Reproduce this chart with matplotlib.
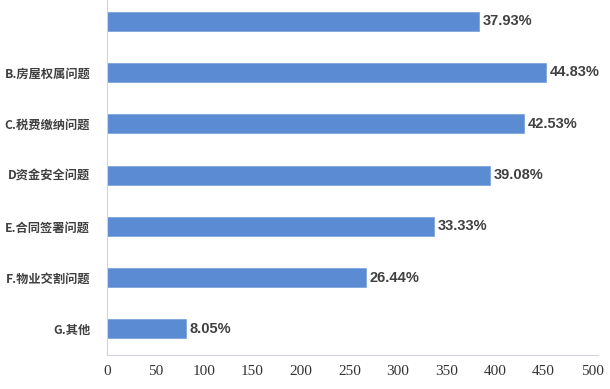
import numpy as np
from matplotlib import pyplot as plt

plt.rcParams['font.family'] = ['Noto Sans CJK SC', 'DejaVu Sans']

BAR_BLUE = "#5b8bd2"
TEXT_GRAY = "#404040"

categories = ["", "B.房屋权属问题", "C.税费缴纳问题", "D资金安全问题",
              "E.合同签署问题", "F.物业交割问题", "G.其他"]
values = [383, 452, 430, 395, 337, 267, 81]
pct_labels = ["37.93%", "44.83%", "42.53%", "39.08%", "33.33%", "26.44%", "8.05%"]
xticks = [0, 50, 100, 150, 200, 250, 300, 350, 400, 450, 500]


def draw_chart():
    fig = plt.figure(figsize=(6.1, 3.89), dpi=100)
    ax = fig.add_axes([107 / 610, 34 / 389, 491 / 610, 355 / 389])

    ypos = np.arange(len(categories))[::-1]
    ax.barh(ypos, values, height=0.37, color=BAR_BLUE,
            edgecolor="#7fa6dd", linewidth=0.6)

    for y, v, t in zip(ypos, values, pct_labels):
        ax.text(v + 4, y, t, va="center", ha="left", fontsize=10.5,
                color=TEXT_GRAY, fontweight="bold",
                family=["Liberation Sans Narrow", "Liberation Sans", "DejaVu Sans"])

    ax.set_xlim(0, 506)
    ax.set_ylim(-0.507, 6.41)
    ax.set_yticks(ypos)
    ax.set_yticklabels(categories, fontsize=8.8, color=TEXT_GRAY, fontweight="bold")
    ax.set_xticks(xticks)
    ax.set_xticklabels([str(t) for t in xticks], fontsize=11, color="#333333",
                       family=["Liberation Serif", "DejaVu Serif"])
    ax.tick_params(axis="both", length=0)
    ax.tick_params(axis="y", pad=12)
    ax.tick_params(axis="x", pad=7)

    for s in ["top", "right"]:
        ax.spines[s].set_visible(False)
    ax.spines["left"].set_color("#d0d5dc")
    ax.spines["bottom"].set_color("#d0d5dc")

    plt.savefig("out.png", dpi=100)


if __name__ == '__main__':
    draw_chart()
